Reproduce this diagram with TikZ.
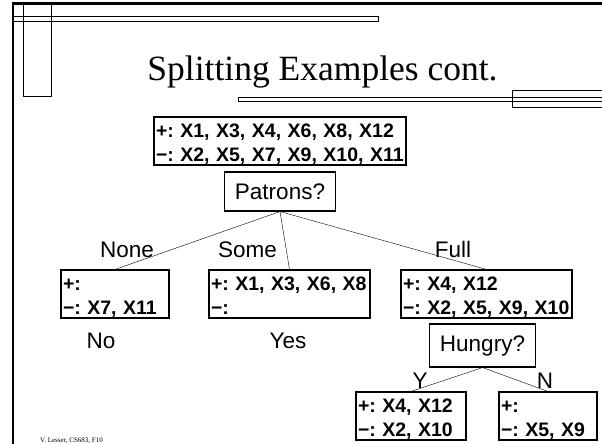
\documentclass[tikz,border=0pt]{standalone}
\usepackage{fontspec}
\setmainfont{Liberation Serif}
\newfontfamily\arial{Liberation Sans}
\tikzset{
  setbox/.style={draw,line width=1.1pt,font=\arial\bfseries\fontsize{19.5}{24}\selectfont\frenchspacing,align=left,inner xsep=2pt,inner ysep=0pt,minimum height=48pt,
    execute at begin node=\rule{0pt}{20pt},execute at end node=\rule[-3pt]{0pt}{3pt}},
  attrbox/.style={draw,line width=1.1pt,font=\arial\fontsize{22.5}{27}\selectfont,inner xsep=10.5pt,minimum height=39pt},
  branch/.style={font=\arial\fontsize{22.5}{27}\selectfont,inner sep=0pt,anchor=base},
  bar/.style={line width=0.8pt}
}
\begin{document}
\begin{tikzpicture}[x=1pt,y=-1pt]
\useasboundingbox (0,0) rectangle (602,444);
% slide frame
\draw [line width=3pt] (12,4) -- (602,4);
\draw [line width=2.5pt] (13,3) -- (13,444);
\draw [bar] (23,4) rectangle (51,96);
\draw [bar] (13,16) rectangle (378,21);
\draw [bar] (238,97) rectangle (603,101);
\draw [bar] (512,90) rectangle (603,107);

\node (title) at (322.5,80) [anchor=base,font=\fontsize{35.5}{40}\selectfont] {Splitting Examples cont.};

\node (root) at (280,141) [setbox,text width=248pt] {+: X1, X3, X4, X6, X8, X12\\−: X2, X5, X7, X9, X10, X11};
\node (patrons) at (280,191.5) [attrbox] {Patrons?};

\node (lb) at (115,294) [setbox,text width=104pt] {+:\\−: X7, X11};
\node (mb) at (289.5,294) [setbox,text width=157pt] {+: X1, X3, X6, X8\\−:};
\node (rb) at (486.5,294) [setbox,text width=167pt] {+: X4, X12\\−: X2, X5, X9, X10};
\draw (patrons.south) -- (lb.north);
\draw (patrons.south) -- (mb.north);
\draw (patrons.south) -- (rb.north);
\node (none) at (127,257) [branch] {None};
\node (some) at (247.5,257) [branch] {Some};
\node (full) at (453,257) [branch] {Full};

\node (no) at (101,348) [branch] {No};
\node (yes) at (288,348) [branch] {Yes};

\node (hungry) at (482.5,345.5) [attrbox,minimum height=43pt] {Hungry?};
\node (blb) at (411,416) [setbox,text width=106pt] {+: X4, X12\\−: X2, X10};
\node (brb) at (548,416) [setbox,text width=94pt] {+:\\−: X5, X9};
\draw (hungry.south) -- (blb.north);
\draw (hungry.south) -- (brb.north);
\node (yy) at (420,388) [branch] {Y};
\node (nn) at (545,388) [branch] {N};

\node (foot) at (40,442) [anchor=base west,inner sep=0pt,font=\fontsize{7}{8}\selectfont] {V. Lesser, CS683, F10};
\end{tikzpicture}
\end{document}
